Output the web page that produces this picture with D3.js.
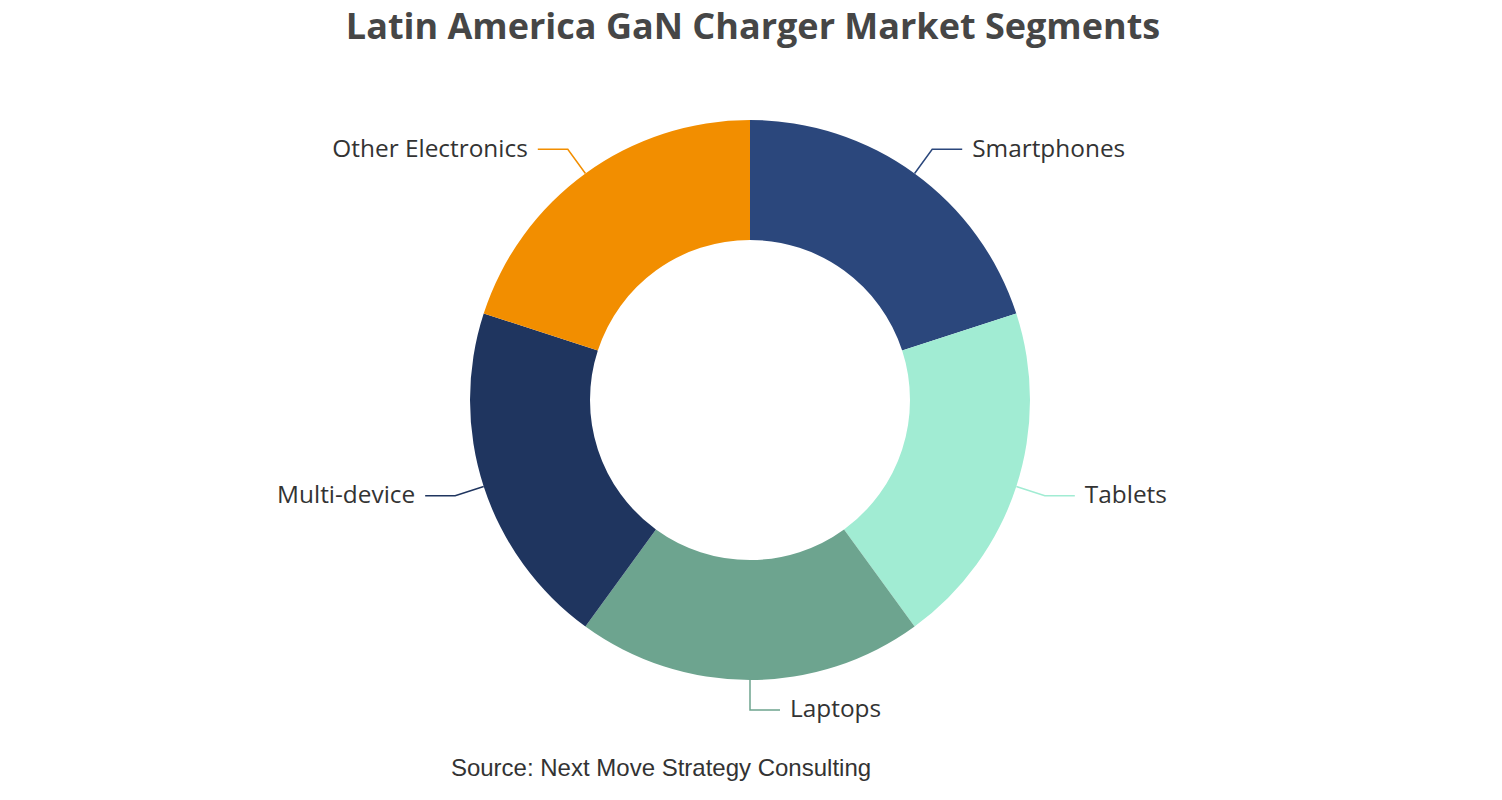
<!DOCTYPE html>
<html>
<head>
<meta charset="utf-8">
<script src="https://cdn.jsdelivr.net/npm/d3@7"></script>
<style>
  body { margin: 0; background: #fff; }
  svg { display: block; }
</style>
</head>
<body>
<svg id="chart" width="1502" height="800"></svg>
<script>
const segments = ["Smartphones", "Tablets", "Laptops", "Multi-device", "Other Electronics"];
const shares = [20, 20, 20, 20, 20];
const colors = ["#2b477c", "#a1ecd3", "#6da48f", "#1f355f", "#f28e00"];

const svg = d3.select("#chart");
const width = 1502, height = 800;
const cx = 750, cy = 400, outerR = 280, innerR = 160;
const len1 = 30, len2 = 30; // leader line pieces

svg.append("text")
  .attr("x", width / 2 + 2)
  .attr("y", 39)
  .attr("text-anchor", "middle")
  .style("font-family", "'Open Sans', 'Noto Sans', sans-serif")
  .style("font-weight", "bold")
  .style("font-size", "36px")
  .style("fill", "#464646")
  .text("Latin America GaN Charger Market Segments");

let data = segments.map((s, i) => ({name: s, value: shares[i], color: colors[i]}));

let pie = d3.pie().value(d => d.value).sort(null);
let arc = d3.arc().innerRadius(innerR).outerRadius(outerR);

let g = svg.append("g").attr("transform", "translate(" + cx + "," + cy + ")");
let arcs = pie(data);

g.selectAll("path.slice")
  .data(arcs)
  .enter().append("path")
  .attr("class", "slice")
  .attr("d", arc)
  .attr("fill", d => d.data.color);

// labels with elbow lines
arcs.forEach(function (d) {
  let a = (d.startAngle + d.endAngle) / 2;
  let sx = Math.sin(a), sy = -Math.cos(a);
  let p0 = [outerR * sx, outerR * sy];
  let p1 = [(outerR + len1) * sx, (outerR + len1) * sy];
  let right = sx > 0.001 || (Math.abs(sx) <= 0.001 && sy > 0);
  let p2 = [p1[0] + (right ? len2 : -len2), p1[1]];

  g.append("polyline")
    .attr("points", [p0, p1, p2].map(p => p.join(",")).join(" "))
    .attr("fill", "none")
    .attr("stroke", d.data.color)
    .attr("stroke-width", 1.5);

  g.append("text")
    .attr("x", p2[0] + (right ? 10 : -10))
    .attr("y", p2[1])
    .attr("dy", "0.3em")
    .attr("text-anchor", right ? "start" : "end")
    .style("font-family", "'Open Sans', 'Noto Sans', sans-serif")
    .style("font-size", "24.4px")
    .style("fill", "#333")
    .text(d.data.name);
});

svg.append("text")
  .attr("x", 661)
  .attr("y", 776)
  .attr("text-anchor", "middle")
  .style("font-family", "'Liberation Sans', Arial, sans-serif")
  .style("font-size", "24px")
  .style("fill", "#333")
  .text("Source: Next Move Strategy Consulting");
</script>
</body>
</html>
